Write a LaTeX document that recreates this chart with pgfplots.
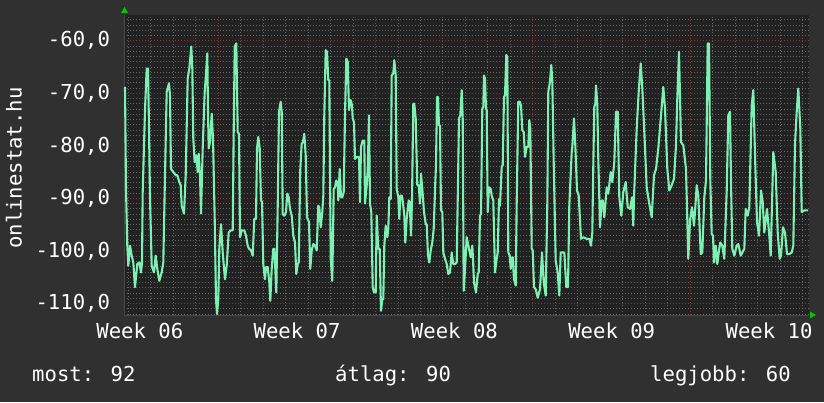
\documentclass[border=0pt]{standalone}
\usepackage{fontspec}
\setmainfont{DejaVu Sans Mono}
\usepackage{pgfplots}
\pgfplotsset{compat=1.18}
\definecolor{bg}{RGB}{48,48,48}
\definecolor{plotbg}{RGB}{34,34,34}
\definecolor{gridgray}{RGB}{100,100,100}
\definecolor{gridred}{RGB}{140,50,50}
\definecolor{linec}{RGB}{125,240,180}
\definecolor{axisc}{RGB}{72,72,72}
\definecolor{arrowc}{RGB}{0,200,0}
\begin{document}
\begin{tikzpicture}[font=\fontsize{20.6}{24}\selectfont]
\path[fill=bg, use as bounding box] (0pt,0pt) rectangle (824pt,402pt);
\begin{axis}[
  at={(124pt,87pt)}, anchor=south west,
  scale only axis, width=685pt, height=300pt,
  xmin=0, xmax=685, ymin=-112.2, ymax=-55.1,
  axis background/.style={fill=plotbg},
  axis x line*=bottom, axis y line*=left,
  axis line style={axisc, line width=1pt},
  clip=false,
  xtick={94.2,251.5,408.8,566.1}, xticklabels={,,,},
  minor xtick={4.3,26.77,...,680},
  extra x ticks={15.8,173.1,330.4,487.7,645.0},
  extra x tick labels={Week 06,Week 07,Week 08,Week 09,Week 10},
  extra x tick style={grid=none, major tick length=0pt},
  ytick={-110,-100,-90,-80,-70,-60},
  yticklabels={{-110,0},{-100,0},{-90,0},{-80,0},{-70,0},{-60,0}},
  minor ytick={-112,-111,...,-56},
  grid=both,
  major grid style={gridred, dash pattern=on 1pt off 2pt, line width=0.8pt},
  minor grid style={gridgray, dash pattern=on 1pt off 2pt, line width=0.8pt},
  major tick length=0pt, minor tick length=0pt,
  tick label style={text=white, font=\fontsize{20.6}{24}\selectfont},
  yticklabel style={xshift=-10.5pt},
  xticklabel style={yshift=-4pt},
]
\addplot[linec, line width=2.1pt, line join=round] coordinates {
(1,-68.8) (2,-88.2) (3.3,-99.0) (4.3,-102.8) (6,-99.0) (7.7,-100.9) (9.3,-102.2) (11,-106.9) (13.3,-102.5) (15.3,-102.2) (17,-104.1) (18,-102.2) (18.7,-88.8) (21,-73.2) (22.7,-65.3) (24,-65.3) (24.7,-72.9) (26,-89.8) (27.7,-102.8) (30,-104.1) (31.7,-100.9) (33.3,-103.4) (35.3,-105.7) (37.7,-104.1) (39.3,-102.2) (41,-85.6) (42.7,-69.7) (45,-68.1) (46,-70.4) (47,-84.4) (49.3,-85.0) (51.7,-85.6) (53.3,-85.6) (55.3,-86.9) (56.7,-87.5) (57.7,-91.4) (60,-92.9) (61.7,-85.6) (63.7,-67.2) (65.3,-65.3) (67.3,-61.1) (68.3,-65.3) (69.3,-78.6) (70.7,-83.1) (72.3,-81.8) (73.7,-85.0) (74.7,-81.5) (76,-85.6) (77,-92.9) (78.7,-80.5) (80.7,-69.7) (81.7,-67.2) (83.3,-62.4) (84,-73.5) (84.7,-80.5) (86,-79.3) (87.7,-73.9) (89,-78.6) (90.7,-93.9) (92,-109.2) (93,-112.0) (94.3,-109.2) (95.3,-99.6) (97,-94.9) (98.7,-100.3) (101,-105.4) (102.7,-102.8) (104.7,-96.5) (106.7,-96.1) (108.7,-96.1) (109.7,-77.4) (110.7,-61.1) (112.3,-60.5)
(113.7,-77.4) (115,-77.7) (116,-97.4) (117.7,-96.1) (120.3,-96.1) (122,-97.1) (123.7,-99.0) (125,-99.6) (127,-99.9) (128.7,-100.9) (130.3,-93.9) (132,-93.9) (133,-80.5) (134.3,-78.3) (135.7,-80.5) (137,-90.4) (138,-90.7) (139.3,-102.5) (141,-105.4) (142,-103.1) (143.7,-103.1) (145.3,-106.0) (146.3,-109.5) (147.7,-103.4) (149.3,-99.6) (150.3,-99.6) (151.3,-103.4) (152.3,-107.9) (153.7,-91.7) (155,-73.5) (156.7,-71.6) (157.7,-73.5) (158.7,-93.0) (160.3,-93.3) (162,-92.6) (163.3,-89.1) (164.7,-89.8) (166,-92.0) (167.7,-93.3) (169.3,-97.1) (171,-98.4) (172.3,-104.4) (173.7,-102.5) (174.7,-102.2) (176.3,-84.4) (177.7,-79.6) (179,-79.3) (180.3,-77.7) (181.7,-81.8) (183,-93.6) (185,-94.5) (186.3,-103.4) (187.7,-99.9) (189.3,-98.7) (191,-99.0) (192.7,-99.9) (194.3,-91.4) (195.3,-91.7) (196.7,-95.5) (198.3,-92.6) (199.3,-89.5) (200.3,-74.2) (201.7,-61.8) (203,-62.1) (204.3,-67.5) (205.3,-67.5) (206.7,-101.5) (208.3,-105.7) (209.7,-88.2) (211,-87.9) (212.3,-86.6) (213.7,-87.2) (214.3,-90.4) (215.7,-84.4) (217,-89.8) (218.3,-89.8) (219.7,-88.8) (221,-74.2) (222.3,-63.4) (223.7,-64.0) (225,-73.2) (226.7,-71.3) (228,-72.3)
(228.7,-74.8) (230,-75.5) (231,-82.5) (232.7,-82.1) (235,-82.1) (236,-90.7) (237,-80.2) (238.7,-79.0) (240.3,-79.0) (241,-91.0) (242.7,-87.5) (243.7,-84.7) (245,-74.2) (246,-91.0) (247.3,-92.6) (248.7,-106.9) (250,-107.9) (251.7,-107.9) (252.7,-93.3) (254.3,-99.6) (255.7,-99.6) (257,-111.4) (258.3,-109.2) (259.3,-109.2) (260.3,-99.0) (261.7,-95.2) (263.3,-97.4) (264.3,-95.8) (265.3,-89.8) (266.7,-90.1) (267.7,-66.6) (269.3,-66.2) (270.3,-63.7) (271.7,-66.6) (272.7,-88.2) (274.3,-89.8) (275.3,-93.9) (276.3,-89.5) (278,-89.5) (279.3,-91.4) (280.3,-93.3) (281.3,-98.4) (282.7,-93.9) (284.7,-90.4) (285.7,-90.7) (287,-97.1) (288,-90.4) (289.3,-72.0) (290.3,-72.0) (291.7,-74.8) (293.3,-87.5) (294.7,-87.5) (296,-91.0) (297,-85.3) (298.3,-88.2) (300,-92.6) (301.7,-94.9) (302.7,-94.9) (304,-100.9) (305.3,-102.2) (306.7,-99.9) (308.3,-98.4) (309.7,-95.8) (311.3,-86.9) (312,-83.7) (313,-70.7) (314,-70.7) (315,-76.1) (316,-76.1) (317,-92.3) (318.3,-92.6) (319.3,-100.3) (321,-101.5) (322.7,-102.5) (324.3,-104.4) (326,-104.1) (327.7,-100.3) (329.3,-102.5) (331,-102.5) (332.7,-102.2) (334,-86.9) (335,-74.8) (336.3,-74.2) (337.7,-69.4) (338.7,-74.8) (339.7,-107.6) (341,-103.4)
(342.7,-97.4) (344.3,-99.0) (346.7,-101.2) (348.3,-99.0) (349,-101.5) (350,-106.0) (352,-107.9) (353.7,-104.4) (354.7,-104.1) (356,-93.3) (357,-93.0) (358.3,-72.9) (359.3,-72.6) (360,-66.6) (361,-67.2) (362,-72.9) (362.7,-73.2) (363.7,-92.6) (365,-87.9) (366.7,-88.2) (367.7,-89.5) (369.3,-90.4) (371,-104.1) (372.7,-101.5) (373.7,-100.3) (375,-90.1) (376,-91.4) (377.7,-84.0) (378.7,-83.7) (380,-70.7) (381,-70.4) (382.3,-62.7) (383.3,-63.1) (384.3,-100.3) (385.7,-100.9) (386.7,-103.4) (387.7,-101.5) (388.7,-101.2) (390,-105.4) (391.7,-106.6) (392.7,-90.7) (394.3,-71.6) (395.7,-71.6) (397,-72.3) (398.3,-77.0) (399.7,-77.4) (401,-82.1) (402.7,-80.2) (404.3,-80.2) (405.3,-75.1) (406.3,-76.7) (407.7,-99.6) (408.7,-99.9) (410,-106.9) (411.7,-107.3) (413.7,-108.9) (416,-107.3) (418,-100.3) (419.7,-106.0) (421.7,-108.5) (423.3,-91.0) (424.3,-69.7) (426,-67.8) (427.3,-64.6) (428.3,-67.8) (429.7,-83.1) (431.7,-101.9) (433.7,-104.1) (435.3,-108.5) (436.7,-100.3) (438.7,-100.3) (440.3,-100.3) (442.3,-106.9) (444,-106.9) (445.3,-91.4) (447.7,-81.2) (448.3,-80.2) (450,-74.8) (451.3,-79.9) (453,-88.5) (454.7,-89.5) (457,-97.7)
(459.3,-97.4) (462.7,-97.7) (465.3,-97.7) (467,-99.0) (468.3,-96.5) (469.3,-83.7) (470.3,-72.6) (471.3,-72.0) (472,-68.5) (473.3,-72.3) (474.3,-82.5) (476,-95.5) (477.7,-90.4) (478.7,-90.4) (480.3,-93.6) (482.7,-87.9) (484.3,-89.1) (486.7,-85.0) (488.3,-86.9) (490.3,-83.1) (492,-73.5) (493.7,-73.5) (495.3,-89.8) (497.3,-93.3) (499.3,-88.8) (501.7,-86.9) (503.7,-91.7) (506,-92.0) (508,-89.8) (509.3,-95.2) (510,-89.8) (512.7,-76.7) (514.7,-69.7) (516.7,-64.3) (518.3,-69.1) (520,-76.1) (522.7,-87.9) (525,-90.7) (527.7,-93.6) (530,-85.6) (532,-84.4) (534.3,-80.5) (537.3,-73.5) (539.3,-68.8) (541,-72.9) (543.3,-84.4) (545.3,-88.5) (547.7,-87.5) (550,-86.3) (552,-79.9) (553.3,-71.0) (555,-62.1) (557,-79.3) (559.3,-79.9) (562,-84.4) (564.3,-101.5) (566,-94.2) (568,-91.7) (570,-95.2) (571.3,-91.7) (572.7,-87.5)
(574.3,-89.5) (576.7,-100.6) (578.3,-100.3) (580.3,-89.8) (582,-86.6) (583.7,-60.5) (585,-60.5) (586.3,-86.6) (587.7,-96.8) (589,-97.1) (590,-102.2) (591.7,-99.0) (593.3,-102.5) (595,-99.9) (596.3,-98.4) (598.3,-99.0) (600.3,-101.5) (602.7,-88.5) (604.3,-74.2) (606,-73.5) (607,-86.9) (608.3,-99.6) (610.3,-100.9) (612.7,-99.0) (614.3,-98.7) (616.7,-100.9) (620.3,-99.6) (621.7,-92.0) (623.7,-93.3) (625.3,-91.7) (627.7,-72.3) (629.3,-69.4) (631.3,-83.7) (633,-94.5) (635,-97.1) (637,-88.5) (638.7,-90.7) (640.3,-96.5) (643,-92.0) (645.3,-97.1) (646.7,-100.9) (649.3,-81.2) (651.7,-85.0) (653.7,-96.5) (655.7,-101.5) (657,-100.9) (659,-95.5) (661,-96.5) (663,-100.6) (665.3,-100.6) (667.7,-100.3) (669.3,-99.0) (671,-79.6) (672.7,-73.5) (674.3,-69.1) (676.3,-76.7) (677.7,-92.6) (680.3,-92.3) (682.7,-92.3) (684,-92.3)
};
\end{axis}
\fill[arrowc] (121pt,389pt) -- (128pt,389pt) -- (124.5pt,395pt) -- cycle;
\fill[arrowc] (810pt,83.5pt) -- (810pt,90.5pt) -- (816pt,87pt) -- cycle;
\node[rotate=90, text=white] at (14pt,234pt) {onlinestat.hu};
\node[anchor=base west, text=white, inner sep=0pt] at (32pt,21pt) {most: 92};
\node[anchor=base west, text=white, inner sep=0pt] at (335pt,21pt) {átlag: 90};
\node[anchor=base west, text=white, inner sep=0pt] at (650pt,21pt) {legjobb: 60};
\end{tikzpicture}
\end{document}
